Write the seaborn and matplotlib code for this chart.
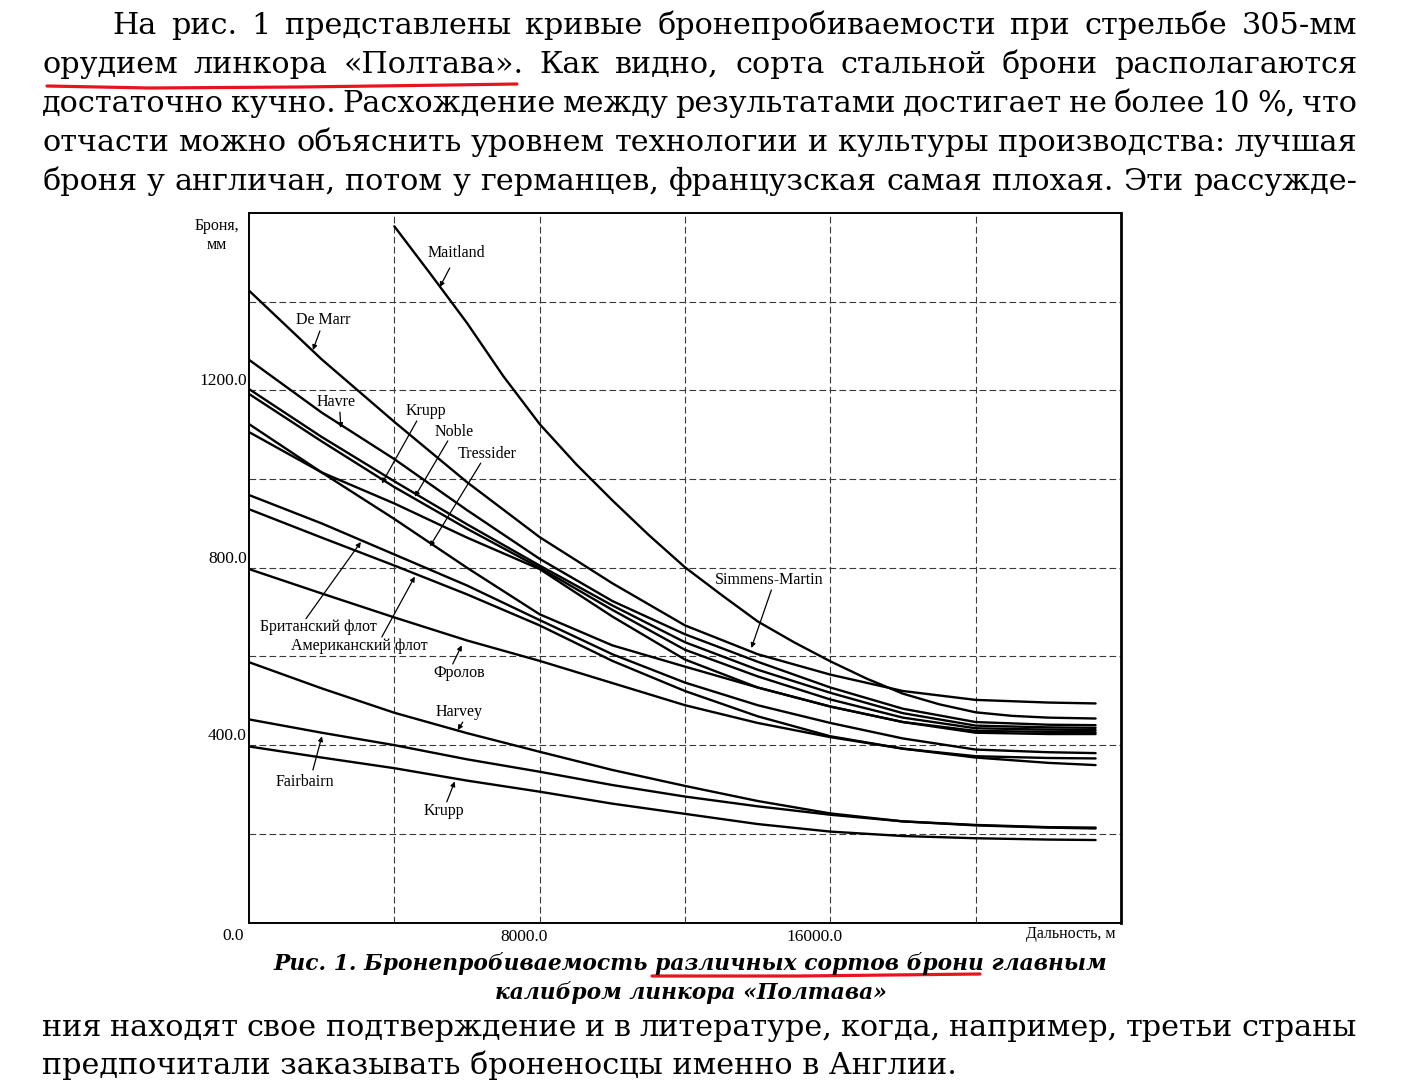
import numpy as np
import pandas as pd
import matplotlib
matplotlib.use("Agg")
import matplotlib.pyplot as plt
import seaborn as sns
from matplotlib.lines import Line2D

# ---------------- data ----------------
distance = [0, 2000, 4000, 6000, 8000, 10000, 12000, 14000, 16000, 18000, 20000, 22000, 23300]
distance_maitland = [4000, 5000, 6000, 7000, 8000, 9000, 10000, 11000, 12000, 13000, 14000,
                     15000, 16000, 17000, 18000, 19000, 20000, 21000, 22000, 23300]

maitland   = [1570, 1462, 1352, 1232, 1124, 1034, 952, 874, 801, 739, 679, 632, 589, 550,
              516, 492, 474, 466, 462, 460]
de_marr    = [1425, 1270, 1129, 993, 869, 765, 670, 605, 559, 522, 502, 496, 494]
havre      = [1269, 1150, 1045, 930, 820, 725, 650, 588, 530, 482, 452, 446, 445]
krupp_hi   = [1203, 1095, 995, 898, 805, 715, 632, 570, 518, 472, 444, 440, 439]
noble      = [1192, 1085, 982, 888, 800, 705, 615, 555, 503, 462, 438, 435, 434]
siemens    = [1106, 1015, 945, 868, 797, 690, 593, 530, 487, 452, 432, 430, 429]
tressider  = [1124, 1015, 910, 800, 695, 625, 577, 530, 487, 452, 428, 425, 425]
brit       = [964, 900, 830, 760, 682, 605, 541, 490, 450, 415, 390, 384, 382]
amer       = [932, 868, 805, 740, 670, 590, 522, 465, 420, 392, 375, 371, 370]
frolov     = [797, 742, 688, 636, 590, 540, 490, 450, 418, 392, 372, 360, 355]
harvey     = [587, 528, 473, 427, 385, 344, 308, 274, 246, 228, 220, 215, 214]
fairbairn  = [458, 428, 400, 368, 340, 310, 284, 262, 243, 228, 219, 214, 212]
krupp_lo   = [397, 372, 348, 320, 295, 268, 245, 222, 205, 195, 190, 187, 186]

series_ids = ["Maitland", "De Marr", "Havre", "Krupp_hi", "Noble", "Simmens-Martin",
              "Tressider", "Brit", "Amer", "Frolov", "Harvey", "Fairbairn", "Krupp_lo"]
series_vals = [maitland, de_marr, havre, krupp_hi, noble, siemens, tressider,
               brit, amer, frolov, harvey, fairbairn, krupp_lo]
series_x = [distance_maitland] + [distance] * 12

# curve labels: text, text position, arrow tail, arrow tip (data units)
label_texts = ["Maitland", "De Marr", "Havre", "Krupp", "Noble", "Tressider",
               "Simmens-Martin", "Британский флот", "Американский флот", "Фролов",
               "Harvey", "Fairbairn", "Krupp"]
label_pos  = [(5718, 1510), (2034, 1359), (2392, 1174), (4866, 1154), (5635, 1106),
              (6543, 1057), (14322, 772), (1897, 666), (3024, 624), (5773, 563),
              (5773, 475), (1539, 317), (5360, 251)]
arrow_tail = [(5525, 1476), (1952, 1334), (2502, 1151), (4618, 1131), (5471, 1086),
              (6378, 1036), (14377, 750), (1567, 685), (3656, 644), (5608, 583),
              (5883, 452), (1759, 344), (5443, 272)]
arrow_tip  = [(5251, 1433), (1759, 1291), (2529, 1115), (3656, 990), (4563, 960),
              (4976, 848), (13827, 619), (3079, 858), (4563, 780), (5855, 625),
              (5745, 434), (2007, 420), (5663, 318)]

grid_x = [4000, 8000, 12000, 16000, 20000]
grid_y = [200, 400, 600, 800, 1000, 1200, 1400]
ytick_vals = [400, 800, 1200]
xtick_vals = [8000, 16000]

body_top = [
    "На рис. 1 представлены кривые бронепробиваемости при стрельбе 305-мм",
    "орудием линкора «Полтава». Как видно, сорта стальной брони располагаются",
    "достаточно кучно. Расхождение между результатами достигает не более 10 %, что",
    "отчасти можно объяснить уровнем технологии и культуры производства: лучшая",
    "броня у англичан, потом у германцев, французская самая плохая. Эти рассужде-",
]
body_bottom = [
    "ния находят свое подтверждение и в литературе, когда, например, третьи страны",
    "предпочитали заказывать броненосцы именно в Англии.",
]
caption = ["Рис. 1. Бронепробиваемость различных сортов брони главным",
           "калибром линкора «Полтава»"]

# ---------------- figure ----------------
sns.set_theme(style="white")
plt.rcParams["font.family"] = ["Liberation Serif", "DejaVu Serif"]
plt.rcParams["text.color"] = "black"

W, H = 1406, 1087
fig = plt.figure(figsize=(W / 100, H / 100), dpi=100)
fig.patch.set_facecolor("white")
ax = fig.add_axes([249 / W, 1 - 922.5 / H, (1121 - 249) / W, (922.5 - 213) / H])

rows = []
for sid, xs, vals in zip(series_ids, series_x, series_vals):
    for x, v in zip(xs, vals):
        rows.append((sid, x, v))
df = pd.DataFrame(rows, columns=["sort", "distance", "armor"])

sns.lineplot(data=df, x="distance", y="armor", hue="sort",
             palette={s: "black" for s in series_ids}, estimator=None,
             legend=False, linewidth=1.7, ax=ax)

ax.set_xlim(0, 24000)
ax.set_ylim(0, 1600)
ax.set_xlabel("")
ax.set_ylabel("")
ax.set_facecolor("white")
ax.set_xticks(grid_x)
ax.set_yticks(grid_y)
ax.tick_params(length=0, labelbottom=False, labelleft=False)
ax.grid(True, color="#3a3a3a", linewidth=0.8, linestyle=(0, (6, 3)))
for sp in ax.spines.values():
    sp.set_color("black")
    sp.set_linewidth(1.4)
ax.spines["right"].set_linewidth(2.0)

lab_fs = 11.5
for t, p, a, b in zip(label_texts, label_pos, arrow_tail, arrow_tip):
    ax.text(p[0], p[1], t, ha="center", va="center", fontsize=lab_fs, color="black")
    ax.annotate("", xy=b, xytext=a,
                arrowprops=dict(arrowstyle="-|>", color="black", lw=0.9,
                                mutation_scale=7, shrinkA=0, shrinkB=0))

tick_fs = 12.5
for v in ytick_vals:
    ax.annotate(f"{v:.1f}", xy=(0, v), xytext=(-1.5, 6.5), textcoords="offset points",
                ha="right", va="center", fontsize=tick_fs, annotation_clip=False)
ax.annotate("0.0", xy=(0, 0), xytext=(-11.5, -10), textcoords="offset points",
            ha="center", va="center", fontsize=tick_fs, annotation_clip=False)
for v in xtick_vals:
    ax.annotate(f"{v:.1f}", xy=(v, 0), xytext=(-11.5, -10.5), textcoords="offset points",
                ha="center", va="center", fontsize=tick_fs, annotation_clip=False)
ax.annotate("Дальность, м", xy=(1, 0), xycoords="axes fraction", xytext=(-4, -8.5),
            textcoords="offset points", ha="right", va="center", fontsize=lab_fs,
            annotation_clip=False)
ax.annotate("Броня,", xy=(0, 1), xycoords="axes fraction", xytext=(-23, -9),
            textcoords="offset points", ha="center", va="center", fontsize=lab_fs,
            annotation_clip=False)
ax.annotate("мм", xy=(0, 1), xycoords="axes fraction", xytext=(-23, -23),
            textcoords="offset points", ha="center", va="center", fontsize=lab_fs,
            annotation_clip=False)

# ---------------- page text ----------------
renderer = fig.canvas.get_renderer()
BODY_FAMILY = ["DejaVu Serif"]
CAP_FAMILY = ["DejaVu Serif"]


def text_width(s, size, **kw):
    t = fig.text(0, 0, s, fontsize=size, **kw)
    w = t.get_window_extent(renderer).width
    t.remove()
    return w


body_fs = 20 * 915 / text_width(body_bottom[1], 20, family=BODY_FAMILY)


def justify(line, x0, x1, ybase, size, **kw):
    words = line.split(" ")
    texts = [fig.text(0, 0, w, fontsize=size, va="baseline", ha="left", **kw) for w in words]
    widths = [t.get_window_extent(renderer).width for t in texts]
    gap = (x1 - x0 - sum(widths)) / max(len(words) - 1, 1)
    x = x0
    for t, w in zip(texts, widths):
        t.set_position((x / W, 1 - ybase / H))
        x += w + gap


top_base = [34, 73, 112, 151, 190]
for i, line in enumerate(body_top):
    justify(line, 112 if i == 0 else 42, 1357, top_base[i], body_fs, family=BODY_FAMILY)

justify(body_bottom[0], 42, 1357, 1036, body_fs, family=BODY_FAMILY)
fig.text(42 / W, 1 - 1074 / H, body_bottom[1], fontsize=body_fs, va="baseline",
         ha="left", family=BODY_FAMILY)

cap_fs = 18 * 833 / text_width(caption[0], 18, family=CAP_FAMILY, weight="bold",
                               style="italic")
fig.text(690.5 / W, 1 - 970 / H, caption[0], fontsize=cap_fs, va="baseline", ha="center",
         family=CAP_FAMILY, weight="bold", style="italic")
fig.text(691 / W, 1 - 999 / H, caption[1], fontsize=cap_fs, va="baseline", ha="center",
         family=CAP_FAMILY, weight="bold", style="italic")

# red hand-drawn underlines
u1x = np.array([47, 150, 300, 450, 517])
u1y = np.array([86, 88, 87, 85, 84])
u2x = np.array([652, 800, 980])
u2y = np.array([976, 976, 974])
for ux, uy in ((u1x, u1y), (u2x, u2y)):
    fig.add_artist(Line2D(ux / W, 1 - uy / H, color="#e8141c", lw=2.3,
                          transform=fig.transFigure))

fig.savefig("out.png", dpi=100, facecolor="white")
